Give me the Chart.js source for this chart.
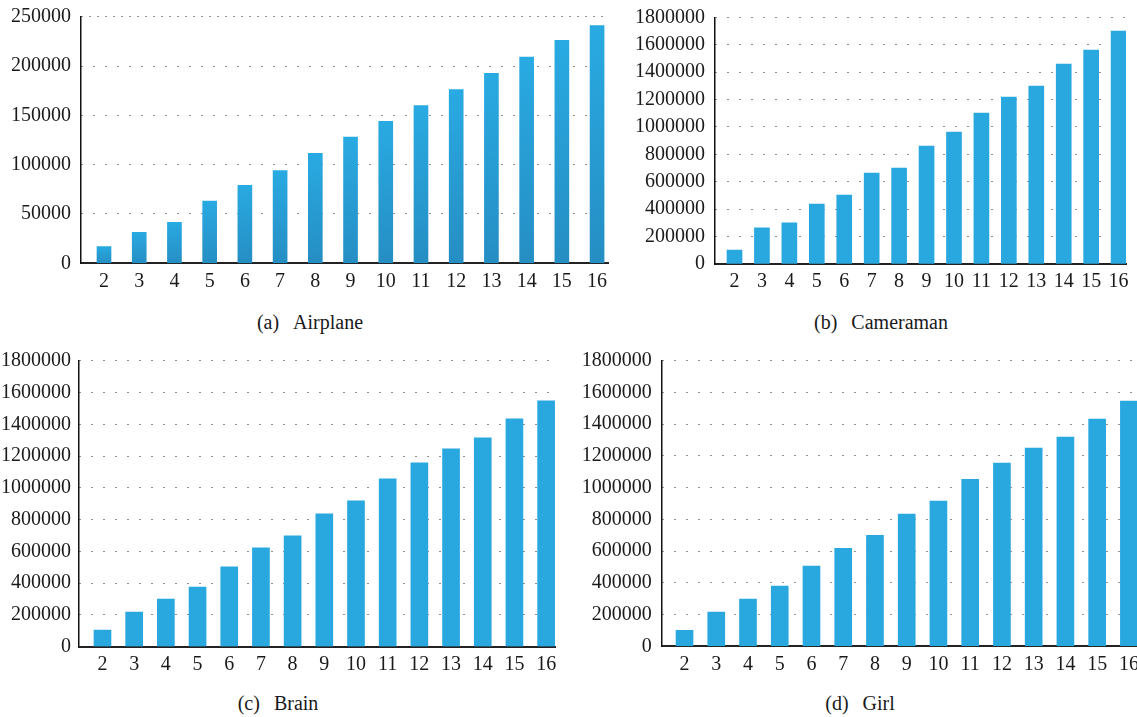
<!DOCTYPE html>
<html>
<head>
<meta charset="utf-8">
<script src="https://cdn.jsdelivr.net/npm/chart.js@4.4.1/dist/chart.umd.min.js"></script>
<style>
  html, body { margin: 0; padding: 0; background: #fff; }
  body { width: 1137px; height: 717px; overflow: hidden; position: relative; }
  canvas { position: absolute; }
  .cap {
    position: absolute;
    font-family: "Liberation Serif", serif;
    font-size: 20px;
    color: #1a1a1a;
    white-space: nowrap;
    transform: translate(-50%, -50%);
  }
  .cap span { margin-right: 14px; }
</style>
</head>
<body>
<canvas id="chartAirplane"></canvas>
<canvas id="chartCameraman"></canvas>
<canvas id="chartBrain"></canvas>
<canvas id="chartGirl"></canvas>
<div class="cap" style="left:310px; top:322px;"><span>(a)</span>Airplane</div>
<div class="cap" style="left:881px; top:322px;"><span>(b)</span>Cameraman</div>
<div class="cap" style="left:278px; top:703px;"><span>(c)</span>Brain</div>
<div class="cap" style="left:860px; top:703px;"><span>(d)</span>Girl</div>

<script>
// Number of thresholds on the x axis
const categories = [2, 3, 4, 5, 6, 7, 8, 9, 10, 11, 12, 13, 14, 15, 16];

// Values per threshold count for each test image
const airplane = [17000, 31500, 41500, 63000, 79000, 94000, 111500, 128000, 144000, 160000, 176000, 192500, 209000, 226000, 241000];
const cameraman = [102000, 263000, 300000, 438000, 503000, 664000, 700000, 861000, 963000, 1102000, 1218000, 1299000, 1459000, 1561000, 1700000];
const brain = [105000, 218000, 300000, 376000, 502000, 622000, 697000, 836000, 918000, 1056000, 1157000, 1245000, 1315000, 1434000, 1548000];
const girl = [101000, 215000, 297000, 379000, 505000, 618000, 700000, 833000, 915000, 1053000, 1154000, 1249000, 1318000, 1432000, 1546000];

// Y-axis tick labels
const ticksAirplane = [0, 50000, 100000, 150000, 200000, 250000];
const ticksLarge = [0, 200000, 400000, 600000, 800000, 1000000, 1200000, 1400000, 1600000, 1800000];

const FONT = { family: "'Liberation Serif', 'Times New Roman', serif", size: 20 };
const TEXT = '#1a1a1a';
const BLUE = '#29a7df';

// Per-bar vertical gradient: lighter at the top, deeper at the base
function airplaneFill(c) {
  const chart = c.chart;
  const y = chart.scales && chart.scales.y;
  if (!y || !c.parsed) return '#27a0d8';
  const top = y.getPixelForValue(c.parsed.y);
  const base = y.getPixelForValue(0);
  if (!isFinite(top) || !isFinite(base) || top === base) return '#27a0d8';
  const g = chart.ctx.createLinearGradient(0, top, 0, base);
  g.addColorStop(0, '#29aae2');
  g.addColorStop(1, '#258ec3');
  return g;
}

function drawPanel(id, frame, area, values, yTicks, xRange, barPx, labelPad, fill, topDash) {
  const canvas = document.getElementById(id);
  canvas.width = frame.w;
  canvas.height = frame.h;
  canvas.style.left = frame.x + 'px';
  canvas.style.top = frame.y + 'px';
  canvas.style.width = frame.w + 'px';
  canvas.style.height = frame.h + 'px';

  const yWidth = area.l - frame.x;
  const xHeight = frame.y + frame.h - area.b;
  const yMax = yTicks[yTicks.length - 1];

  new Chart(canvas, {
    type: 'bar',
    data: {
      datasets: [{
        data: categories.map((c, i) => ({ x: c, y: values[i] })),
        backgroundColor: fill,
        borderWidth: 0,
        barThickness: barPx
      }]
    },
    options: {
      responsive: false,
      animation: false,
      events: [],
      layout: {
        padding: { left: 0, top: area.t - frame.y, right: frame.x + frame.w - area.r, bottom: 0 }
      },
      plugins: { legend: { display: false }, tooltip: { enabled: false } },
      scales: {
        x: {
          type: 'linear',
          offset: false,
          min: xRange[0],
          max: xRange[1],
          afterFit(s) {
            s.height = xHeight;
            s.paddingLeft = 0; s.paddingRight = 0;
          },
          afterBuildTicks(s) { s.ticks = categories.map(v => ({ value: v })); },
          grid: { display: false, drawTicks: false, offset: false },
          border: { display: true, color: '#222', width: 2 },
          ticks: {
            font: FONT, color: TEXT, padding: 6,
            autoSkip: false, maxRotation: 0,
            callback: v => String(v)
          }
        },
        y: {
          min: 0,
          max: yMax,
          afterFit(s) {
            s.width = yWidth;
            s.paddingTop = 0; s.paddingBottom = 0;
          },
          afterBuildTicks(s) { s.ticks = yTicks.map(v => ({ value: v })); },
          grid: { color: '#222', lineWidth: 1, drawTicks: false },
          border: {
            display: true, color: '#111', width: 1.5,
            dash: ctx => (ctx.tick && ctx.tick.value === yMax && topDash) ? topDash : [1, 11]
          },
          ticks: {
            font: FONT, color: TEXT, padding: labelPad,
            autoSkip: false,
            callback: v => String(v)
          }
        }
      }
    }
  });
}

drawPanel('chartAirplane',
  { x: 0, y: 0, w: 620, h: 300 },
  { l: 81, t: 16.7, r: 608, b: 263.3 },
  airplane, ticksAirplane, [1.347, 16.31], 14, 10, airplaneFill, [1, 7]);

drawPanel('chartCameraman',
  { x: 620, y: 0, w: 517, h: 300 },
  { l: 715, t: 17.3, r: 1126, b: 264 },
  cameraman, ticksLarge, [1.289, 16.27], 15, 10, BLUE, null);

drawPanel('chartBrain',
  { x: 0, y: 345, w: 570, h: 330 },
  { l: 79, t: 360.7, r: 555, b: 646.7 },
  brain, ticksLarge, [1.259, 16.28], 17, 8, BLUE, null);

drawPanel('chartGirl',
  { x: 570, y: 345, w: 580, h: 330 },
  { l: 661.7, t: 360.7, r: 1140, b: 646.3 },
  girl, ticksLarge, [1.281, 16.35], 17, 10, BLUE, null);
</script>
</body>
</html>
